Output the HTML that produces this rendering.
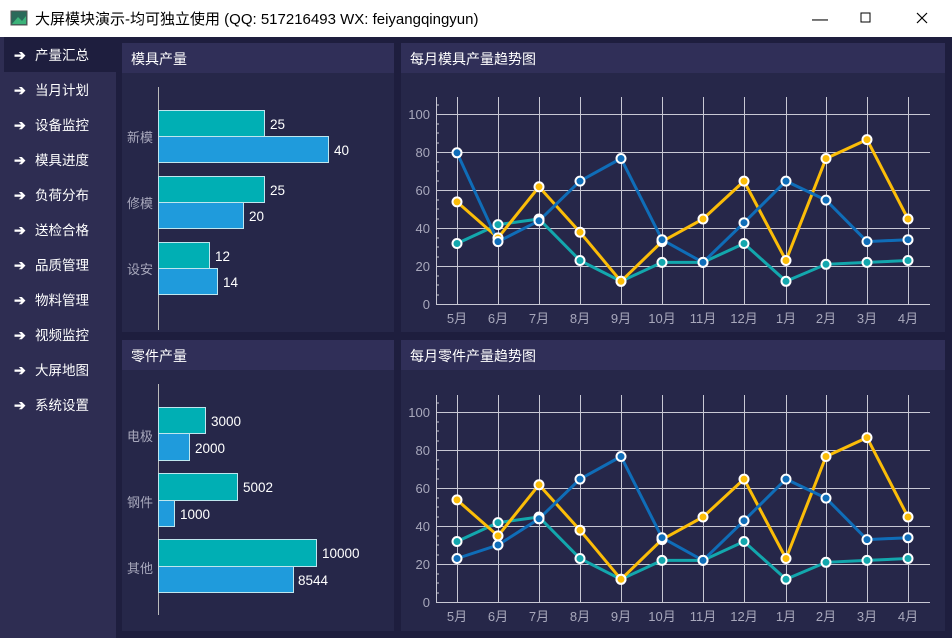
<!DOCTYPE html>
<html><head><meta charset="utf-8"><style>
body{margin:0;width:952px;height:638px;overflow:hidden;background:#1e1e3e;font-family:"Liberation Sans","Microsoft YaHei","Noto Sans CJK SC",sans-serif}
svg{display:block}
</style></head><body>
<svg width="952" height="638" viewBox="0 0 952 638" xmlns="http://www.w3.org/2000/svg" font-family="Liberation Sans, Noto Sans CJK SC, sans-serif">
<rect x="0" y="0" width="952" height="638" fill="#1e1e3e"/>
<!-- title bar -->
<rect x="0" y="0" width="952" height="37" fill="#ffffff"/>
<rect x="11" y="11" width="16" height="14" fill="#2a6a5a" stroke="#555" stroke-width="1"/>
<path d="M12 24 L18 17 L22 21 L26 16 L26 24Z" fill="#3cb37a"/>
<text x="35" y="24" font-size="15" fill="#000">大屏模块演示-均可独立使用 (QQ: 517216493  WX: feiyangqingyun)</text>
<text x="812" y="24" font-size="16" fill="#000">—</text>
<rect x="861" y="13" width="9" height="9" fill="none" stroke="#000" stroke-width="1"/>
<path d="M917 13 L927 23 M927 13 L917 23" stroke="#000" stroke-width="1.2"/>
<!-- sidebar -->
<rect x="0" y="37" width="116" height="601" fill="#2e2d52"/>
<rect x="4" y="37" width="112" height="35" fill="#1e1e3e"/>
<g fill="#fff" font-size="13.5">
<text x="35" y="60">产量汇总</text><text x="35" y="95">当月计划</text><text x="35" y="130">设备监控</text>
<text x="35" y="165">模具进度</text><text x="35" y="200">负荷分布</text><text x="35" y="235">送检合格</text>
<text x="35" y="270">品质管理</text><text x="35" y="305">物料管理</text><text x="35" y="340">视频监控</text>
<text x="35" y="375">大屏地图</text><text x="35" y="410">系统设置</text>
</g>
<g fill="#fff" font-size="14" font-weight="bold">
<text x="14" y="60">➔</text><text x="14" y="95">➔</text><text x="14" y="130">➔</text><text x="14" y="165">➔</text>
<text x="14" y="200">➔</text><text x="14" y="235">➔</text><text x="14" y="270">➔</text><text x="14" y="305">➔</text>
<text x="14" y="340">➔</text><text x="14" y="375">➔</text><text x="14" y="410">➔</text>
</g>
<!-- panels -->
<rect x="122" y="43" width="272" height="289" fill="#262749"/><rect x="122" y="43" width="272" height="30" fill="#302f58"/>
<rect x="401" y="43" width="544" height="289" fill="#262749"/><rect x="401" y="43" width="544" height="30" fill="#302f58"/>
<rect x="122" y="340" width="272" height="291" fill="#262749"/><rect x="122" y="340" width="272" height="30" fill="#302f58"/>
<rect x="401" y="340" width="544" height="291" fill="#262749"/><rect x="401" y="340" width="544" height="30" fill="#302f58"/>
<g fill="#fff" font-size="14">
<text x="131" y="64">模具产量</text><text x="410" y="64">每月模具产量趋势图</text>
<text x="131" y="361">零件产量</text><text x="410" y="361">每月零件产量趋势图</text>
</g>
<!-- bar chart 1 -->
<line x1="158.5" y1="87" x2="158.5" y2="330" stroke="#bbb"/>
<g stroke="#bfe6ee" stroke-width="1">
<rect x="158.5" y="110.5" width="106" height="26" fill="#00afb4"/><rect x="158.5" y="136.5" width="170" height="26" fill="#1f9bdc"/>
<rect x="158.5" y="176.5" width="106" height="26" fill="#00afb4"/><rect x="158.5" y="202.5" width="85" height="26" fill="#1f9bdc"/>
<rect x="158.5" y="242.5" width="51" height="26" fill="#00afb4"/><rect x="158.5" y="268.5" width="59" height="26" fill="#1f9bdc"/>
</g>
<g fill="#fff" font-size="13.5">
<text x="270" y="129">25</text><text x="334" y="155">40</text><text x="270" y="195">25</text><text x="249" y="221">20</text>
<text x="215" y="261">12</text><text x="223" y="287">14</text>
</g>
<g fill="#a8a8bc" font-size="13">
<text x="127" y="142">新模</text><text x="127" y="208">修模</text><text x="127" y="274">设安</text>
</g>
<!-- bar chart 2 -->
<line x1="158.5" y1="384" x2="158.5" y2="615" stroke="#bbb"/>
<g stroke="#bfe6ee" stroke-width="1">
<rect x="158.5" y="407.5" width="47" height="26" fill="#00afb4"/><rect x="158.5" y="433.5" width="31" height="27" fill="#1f9bdc"/>
<rect x="158.5" y="473.5" width="79" height="27" fill="#00afb4"/><rect x="158.5" y="500.5" width="16" height="26" fill="#1f9bdc"/>
<rect x="158.5" y="539.5" width="158" height="27" fill="#00afb4"/><rect x="158.5" y="566.5" width="135" height="26" fill="#1f9bdc"/>
</g>
<g fill="#fff" font-size="13.5">
<text x="211" y="426">3000</text><text x="195" y="453">2000</text><text x="243" y="492">5002</text><text x="180" y="519">1000</text>
<text x="322" y="558">10000</text><text x="298" y="585">8544</text>
</g>
<g fill="#a8a8bc" font-size="13">
<text x="127" y="441">电极</text><text x="127" y="507">钢件</text><text x="127" y="573">其他</text>
</g>

<!-- line chart 1 -->
<g id="lc1">
<g stroke="#c8c8d4" stroke-width="1">
<line x1="436" y1="114.5" x2="930" y2="114.5"/><line x1="436" y1="152.5" x2="930" y2="152.5"/><line x1="436" y1="190.5" x2="930" y2="190.5"/>
<line x1="436" y1="228.5" x2="930" y2="228.5"/><line x1="436" y1="266.5" x2="930" y2="266.5"/><line x1="436" y1="304.5" x2="930" y2="304.5"/>
<line x1="436.5" y1="97" x2="436.5" y2="304"/>
<line x1="457.5" y1="97" x2="457.5" y2="304"/><line x1="498.5" y1="97" x2="498.5" y2="304"/><line x1="539.5" y1="97" x2="539.5" y2="304"/>
<line x1="580.5" y1="97" x2="580.5" y2="304"/><line x1="621.5" y1="97" x2="621.5" y2="304"/><line x1="662.5" y1="97" x2="662.5" y2="304"/>
<line x1="703.5" y1="97" x2="703.5" y2="304"/><line x1="744.5" y1="97" x2="744.5" y2="304"/><line x1="786.5" y1="97" x2="786.5" y2="304"/>
<line x1="826.5" y1="97" x2="826.5" y2="304"/><line x1="867.5" y1="97" x2="867.5" y2="304"/><line x1="908.5" y1="97" x2="908.5" y2="304"/>
<path d="M436 105h3M436 124h3M436 133h3M436 143h3M436 162h3M436 171h3M436 181h3M436 200h3M436 209h3M436 219h3M436 238h3M436 247h3M436 257h3M436 276h3M436 285h3M436 295h3"/>
</g>
<g fill="#a8a8bc" font-size="13" text-anchor="end">
<text x="430" y="119">100</text><text x="430" y="157">80</text><text x="430" y="195">60</text><text x="430" y="233">40</text><text x="430" y="271">20</text><text x="430" y="309">0</text>
</g>
<g fill="#a8a8bc" font-size="13" text-anchor="middle">
<text x="457" y="323">5月</text><text x="498" y="323">6月</text><text x="539" y="323">7月</text><text x="580" y="323">8月</text><text x="621" y="323">9月</text><text x="662" y="323">10月</text>
<text x="703" y="323">11月</text><text x="744" y="323">12月</text><text x="786" y="323">1月</text><text x="826" y="323">2月</text><text x="867" y="323">3月</text><text x="908" y="323">4月</text>
</g>
<polyline fill="none" stroke="#13a7ad" stroke-width="3" points="457,243.5 498,224.6 539,219 580,260.5 621,281.3 662,262.4 703,262.4 744,243.5 786,281.3 826,264.3 867,262.4 908,260.5"/>
<polyline fill="none" stroke="#fbbd08" stroke-width="3" points="457,201.9 498,237.9 539,186.8 580,232.2 621,281.3 662,241.6 703,219 744,181.1 786,260.5 826,158.5 867,139.6 908,219"/>
<polyline fill="none" stroke="#0f6db8" stroke-width="3" points="457,152.8 498,241.6 539,220.8 580,181.1 621,158.5 662,239.7 703,262.4 744,222.7 786,181.1 826,200.1 867,241.6 908,239.7"/>
<g stroke="#fff" stroke-width="2" fill="#13a7ad">
<circle cx="457" cy="243.5" r="4.5"/><circle cx="498" cy="224.6" r="4.5"/><circle cx="539" cy="219" r="4.5"/><circle cx="580" cy="260.5" r="4.5"/><circle cx="621" cy="281.3" r="4.5"/><circle cx="662" cy="262.4" r="4.5"/><circle cx="703" cy="262.4" r="4.5"/><circle cx="744" cy="243.5" r="4.5"/><circle cx="786" cy="281.3" r="4.5"/><circle cx="826" cy="264.3" r="4.5"/><circle cx="867" cy="262.4" r="4.5"/><circle cx="908" cy="260.5" r="4.5"/>
</g>
<g stroke="#fff" stroke-width="2" fill="#fbbd08">
<circle cx="457" cy="201.9" r="4.5"/><circle cx="498" cy="237.9" r="4.5"/><circle cx="539" cy="186.8" r="4.5"/><circle cx="580" cy="232.2" r="4.5"/><circle cx="621" cy="281.3" r="4.5"/><circle cx="662" cy="241.6" r="4.5"/><circle cx="703" cy="219" r="4.5"/><circle cx="744" cy="181.1" r="4.5"/><circle cx="786" cy="260.5" r="4.5"/><circle cx="826" cy="158.5" r="4.5"/><circle cx="867" cy="139.6" r="4.5"/><circle cx="908" cy="219" r="4.5"/>
</g>
</g>
<g stroke="#fff" stroke-width="2" fill="#0f6db8">
<circle cx="457" cy="152.8" r="4.5"/><circle cx="498" cy="241.6" r="4.5"/><circle cx="539" cy="220.8" r="4.5"/><circle cx="580" cy="181.1" r="4.5"/><circle cx="621" cy="158.5" r="4.5"/><circle cx="662" cy="239.7" r="4.5"/><circle cx="703" cy="262.4" r="4.5"/><circle cx="744" cy="222.7" r="4.5"/><circle cx="786" cy="181.1" r="4.5"/><circle cx="826" cy="200.1" r="4.5"/><circle cx="867" cy="241.6" r="4.5"/><circle cx="908" cy="239.7" r="4.5"/>
</g>

<!-- line chart 2 (copy of grid/teal/yellow, shifted) -->
<g transform="translate(0,298)">
<g stroke="#c8c8d4" stroke-width="1">
<line x1="436" y1="114.5" x2="930" y2="114.5"/><line x1="436" y1="152.5" x2="930" y2="152.5"/><line x1="436" y1="190.5" x2="930" y2="190.5"/>
<line x1="436" y1="228.5" x2="930" y2="228.5"/><line x1="436" y1="266.5" x2="930" y2="266.5"/><line x1="436" y1="304.5" x2="930" y2="304.5"/>
<line x1="436.5" y1="97" x2="436.5" y2="304"/>
<line x1="457.5" y1="97" x2="457.5" y2="304"/><line x1="498.5" y1="97" x2="498.5" y2="304"/><line x1="539.5" y1="97" x2="539.5" y2="304"/>
<line x1="580.5" y1="97" x2="580.5" y2="304"/><line x1="621.5" y1="97" x2="621.5" y2="304"/><line x1="662.5" y1="97" x2="662.5" y2="304"/>
<line x1="703.5" y1="97" x2="703.5" y2="304"/><line x1="744.5" y1="97" x2="744.5" y2="304"/><line x1="786.5" y1="97" x2="786.5" y2="304"/>
<line x1="826.5" y1="97" x2="826.5" y2="304"/><line x1="867.5" y1="97" x2="867.5" y2="304"/><line x1="908.5" y1="97" x2="908.5" y2="304"/>
<path d="M436 105h3M436 124h3M436 133h3M436 143h3M436 162h3M436 171h3M436 181h3M436 200h3M436 209h3M436 219h3M436 238h3M436 247h3M436 257h3M436 276h3M436 285h3M436 295h3"/>
</g>
<g fill="#a8a8bc" font-size="13" text-anchor="end">
<text x="430" y="119">100</text><text x="430" y="157">80</text><text x="430" y="195">60</text><text x="430" y="233">40</text><text x="430" y="271">20</text><text x="430" y="309">0</text>
</g>
<g fill="#a8a8bc" font-size="13" text-anchor="middle">
<text x="457" y="323">5月</text><text x="498" y="323">6月</text><text x="539" y="323">7月</text><text x="580" y="323">8月</text><text x="621" y="323">9月</text><text x="662" y="323">10月</text>
<text x="703" y="323">11月</text><text x="744" y="323">12月</text><text x="786" y="323">1月</text><text x="826" y="323">2月</text><text x="867" y="323">3月</text><text x="908" y="323">4月</text>
</g>
<polyline fill="none" stroke="#13a7ad" stroke-width="3" points="457,243.5 498,224.6 539,219 580,260.5 621,281.3 662,262.4 703,262.4 744,243.5 786,281.3 826,264.3 867,262.4 908,260.5"/>
<polyline fill="none" stroke="#fbbd08" stroke-width="3" points="457,201.9 498,237.9 539,186.8 580,232.2 621,281.3 662,241.6 703,219 744,181.1 786,260.5 826,158.5 867,139.6 908,219"/>
<polyline fill="none" stroke="#0f6db8" stroke-width="3" points="457,260.5 498,247 539,220.8 580,181.1 621,158.5 662,239.7 703,262.4 744,222.7 786,181.1 826,200.1 867,241.6 908,239.7"/>
<g stroke="#fff" stroke-width="2" fill="#13a7ad">
<circle cx="457" cy="243.5" r="4.5"/><circle cx="498" cy="224.6" r="4.5"/><circle cx="539" cy="219" r="4.5"/><circle cx="580" cy="260.5" r="4.5"/><circle cx="621" cy="281.3" r="4.5"/><circle cx="662" cy="262.4" r="4.5"/><circle cx="703" cy="262.4" r="4.5"/><circle cx="744" cy="243.5" r="4.5"/><circle cx="786" cy="281.3" r="4.5"/><circle cx="826" cy="264.3" r="4.5"/><circle cx="867" cy="262.4" r="4.5"/><circle cx="908" cy="260.5" r="4.5"/>
</g>
<g stroke="#fff" stroke-width="2" fill="#fbbd08">
<circle cx="457" cy="201.9" r="4.5"/><circle cx="498" cy="237.9" r="4.5"/><circle cx="539" cy="186.8" r="4.5"/><circle cx="580" cy="232.2" r="4.5"/><circle cx="621" cy="281.3" r="4.5"/><circle cx="662" cy="241.6" r="4.5"/><circle cx="703" cy="219" r="4.5"/><circle cx="744" cy="181.1" r="4.5"/><circle cx="786" cy="260.5" r="4.5"/><circle cx="826" cy="158.5" r="4.5"/><circle cx="867" cy="139.6" r="4.5"/><circle cx="908" cy="219" r="4.5"/>
</g>
<g stroke="#fff" stroke-width="2" fill="#0f6db8">
<circle cx="457" cy="260.5" r="4.5"/><circle cx="498" cy="247" r="4.5"/><circle cx="539" cy="220.8" r="4.5"/><circle cx="580" cy="181.1" r="4.5"/><circle cx="621" cy="158.5" r="4.5"/><circle cx="662" cy="239.7" r="4.5"/><circle cx="703" cy="262.4" r="4.5"/><circle cx="744" cy="222.7" r="4.5"/><circle cx="786" cy="181.1" r="4.5"/><circle cx="826" cy="200.1" r="4.5"/><circle cx="867" cy="241.6" r="4.5"/><circle cx="908" cy="239.7" r="4.5"/>
</g>
</g>
</svg>
</body></html>
